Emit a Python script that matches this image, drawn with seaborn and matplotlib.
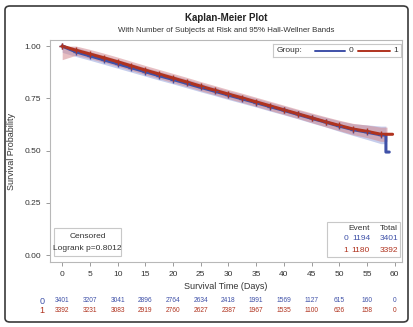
import numpy as np
import pandas as pd
import matplotlib
matplotlib.use("Agg")
import matplotlib.pyplot as plt
from matplotlib.patches import FancyBboxPatch, Rectangle
import seaborn as sns

# ---------------- data ----------------
times = [0, 2.5, 5, 7.5, 10, 12.5, 15, 17.5, 20, 22.5, 25, 27.5, 30,
         32.5, 35, 37.5, 40, 42.5, 45, 47.5, 50, 52.5, 55, 57.5]
surv_1 = [1.000, 0.980, 0.962, 0.944, 0.925, 0.905, 0.885, 0.866, 0.847,
          0.828, 0.808, 0.789, 0.770, 0.752, 0.733, 0.714, 0.695, 0.676,
          0.657, 0.638, 0.620, 0.603, 0.592, 0.578]
surv_0 = [1.000, 0.972, 0.953, 0.934, 0.915, 0.896, 0.877, 0.858, 0.840,
          0.821, 0.802, 0.784, 0.765, 0.747, 0.729, 0.710, 0.692, 0.673,
          0.654, 0.636, 0.617, 0.600, 0.588, 0.575]
# half-width of Hall-Wellner bands
hw_1 = [0.065, 0.024, 0.022, 0.022, 0.022, 0.022, 0.022, 0.022, 0.022,
        0.022, 0.022, 0.022, 0.022, 0.022, 0.022, 0.022, 0.022, 0.022,
        0.023, 0.024, 0.025, 0.027, 0.030, 0.034]
hw_0 = [0.030, 0.022, 0.021, 0.021, 0.021, 0.021, 0.021, 0.021, 0.021,
        0.021, 0.021, 0.021, 0.021, 0.021, 0.021, 0.021, 0.021, 0.021,
        0.022, 0.023, 0.025, 0.028, 0.035, 0.042]
end_1 = (59.6, 0.578)
end_0_drop = (58.4, 0.493)
end_0 = 59.0

risk_times = [0, 5, 10, 15, 20, 25, 30, 35, 40, 45, 50, 55, 60]
risk_0 = [3401, 3207, 3041, 2896, 2764, 2634, 2418, 1991, 1569, 1127, 615, 160, 0]
risk_1 = [3392, 3231, 3083, 2919, 2760, 2627, 2387, 1967, 1535, 1100, 626, 158, 0]

groups = ["0", "1"]
events = [1194, 1180]
totals = [3401, 3392]
logrank_p = "0.8012"

BLUE = "#3f51a8"
RED = "#b0331f"
BLUE_BAND = "#98a5de"
RED_BAND = "#d48a90"

# ---------------- figure ----------------
sns.set_style("white")
plt.rcParams["font.family"] = ["Liberation Sans", "DejaVu Sans"]

W, H = 413, 327
fig = plt.figure(figsize=(W / 100, H / 100), dpi=100)
fig.patch.set_facecolor("white")

frame = FancyBboxPatch((5 / W, 5 / H), 403 / W, 316 / H,
                       boxstyle="round,pad=0,rounding_size=0.012",
                       transform=fig.transFigure, fill=False,
                       edgecolor="#3a3a3a", linewidth=1.2)
fig.patches.append(frame)

ax_l, ax_r, ax_t, ax_b = 50, 402, 40, 262
ax = fig.add_axes([ax_l / W, 1 - ax_b / H, (ax_r - ax_l) / W, (ax_b - ax_t) / H])

rows = []
for g, s, hw in (("0", surv_0, hw_0), ("1", surv_1, hw_1)):
    for t, v, h in zip(times, s, hw):
        rows.append(dict(time=t, surv=v, lo=v - h, hi=min(1.0, v + h), group=g))
df = pd.DataFrame(rows)

ext = pd.DataFrame([
    dict(time=end_0_drop[0], surv=surv_0[-1], group="0"),
    dict(time=end_0_drop[0], surv=end_0_drop[1], group="0"),
    dict(time=end_0, surv=end_0_drop[1], group="0"),
    dict(time=end_1[0], surv=end_1[1], group="1"),
])
df_line = pd.concat([df[["time", "surv", "group"]], ext], ignore_index=True)
df_line["order"] = range(len(df_line))
df_line = df_line.sort_values(["group", "time", "order"])

palette = {"0": BLUE, "1": RED}
bands = {"0": BLUE_BAND, "1": RED_BAND}

for g in groups:
    d = df[df.group == g]
    tb = list(d.time) + [end_0_drop[0] if g == "0" else end_1[0] - 1.0]
    lo = list(d.lo) + [list(d.lo)[-1]]
    hi = list(d.hi) + [list(d.hi)[-1]]
    ax.fill_between(tb, lo, hi, color=bands[g], alpha=0.55, linewidth=0, zorder=1)

sns.lineplot(data=df_line, x="time", y="surv", hue="group", palette=palette,
             estimator=None, sort=False, linewidth=2.2,
             ax=ax, legend=False, zorder=3)

for g in groups:
    d = df[df.group == g]
    ax.scatter(d.time, d.surv, marker="+", s=14,
               color=palette[g], linewidths=1.0, zorder=4)

ax.set_xlim(-2.2, 61.3)
ax.set_ylim(-0.033, 1.029)
ax.set_xticks(risk_times)
ax.set_yticks([0, 0.25, 0.5, 0.75, 1.0])
ax.set_yticklabels(["0.00", "0.25", "0.50", "0.75", "1.00"])
ax.tick_params(axis="both", labelsize=6, colors="#8a8a8a", labelcolor="#333333",
               length=3, width=0.6, direction="out", bottom=True, left=True)
ax.set_xlabel("Survival Time (Days)", fontsize=6.5, color="#333333", labelpad=3)
ax.set_ylabel("Survival Probability", fontsize=6.5, color="#333333", labelpad=6)
for sp in ax.spines.values():
    sp.set_color("#b8b8b8")
    sp.set_linewidth(0.8)

fig.text(0.5 * (ax_l + ax_r) / W, 1 - 18 / H, "Kaplan-Meier Plot", ha="center",
         va="center", fontsize=7, fontweight="bold", color="#222222")
fig.text(0.5 * (ax_l + ax_r) / W, 1 - 30 / H,
         "With Number of Subjects at Risk and 95% Hall-Wellner Bands",
         ha="center", va="center", fontsize=5.7, color="#333333")

lx0, ly0, lx1, ly1 = 273, 44, 401, 57
ax_leg = fig.add_axes([lx0 / W, 1 - ly1 / H, (lx1 - lx0) / W, (ly1 - ly0) / H])
ax_leg.set_xlim(lx0, lx1)
ax_leg.set_ylim(ly1, ly0)
ax_leg.set_xticks([])
ax_leg.set_yticks([])
for sp in ax_leg.spines.values():
    sp.set_color("#c8c8c8")
    sp.set_linewidth(0.8)
ax_leg.text(277, 50.5, "Group:", fontsize=6, va="center", color="#333333")
ax_leg.plot([315, 345], [50.5, 50.5], color=BLUE, lw=1.4)
ax_leg.text(351, 50.5, "0", fontsize=6, va="center", ha="center", color="#333333")
ax_leg.plot([358, 390], [50.5, 50.5], color=RED, lw=1.4)
ax_leg.text(396, 50.5, "1", fontsize=6, va="center", ha="center", color="#333333")

def fig_box(x0, y0, x1, y1):
    r = Rectangle((x0 / W, 1 - y1 / H), (x1 - x0) / W, (y1 - y0) / H,
                  transform=fig.transFigure, fill=True, facecolor="white",
                  edgecolor="#c8c8c8", linewidth=0.8, zorder=5)
    fig.patches.append(r)

fig_box(54, 228, 121, 256)
fig.text(87.5 / W, 1 - 236 / H, "Censored", fontsize=6, ha="center", va="center",
         color="#333333", zorder=6)
fig.text(87.5 / W, 1 - 248 / H, "Logrank p=" + logrank_p, fontsize=6, ha="center",
         va="center", color="#333333", zorder=6)

fig_box(327, 222, 400, 257)
fig.text(370 / W, 1 - 228 / H, "Event", fontsize=6, ha="right", va="center",
         color="#333333", zorder=6)
fig.text(398 / W, 1 - 228 / H, "Total", fontsize=6, ha="right", va="center",
         color="#333333", zorder=6)
for i, (g, e, tt) in enumerate(zip(groups, events, totals)):
    yy = 1 - (239 + 11 * i) / H
    c = palette[g]
    fig.text(348 / W, yy, g, fontsize=6, ha="right", va="center", color=c, zorder=6)
    fig.text(370 / W, yy, str(e), fontsize=6, ha="right", va="center", color=c, zorder=6)
    fig.text(398 / W, yy, str(tt), fontsize=6, ha="right", va="center", color=c, zorder=6)

trans = matplotlib.transforms.blended_transform_factory(ax.transData, fig.transFigure)
for i, (g, vals) in enumerate(zip(groups, (risk_0, risk_1))):
    yy = 1 - (301 + 9.5 * i) / H
    c = palette[g]
    fig.text(42 / W, yy, g, fontsize=6.5, ha="center", va="center", color=c)
    for t, v in zip(risk_times, vals):
        ax.text(t, yy, str(v), transform=trans, fontsize=4.8, ha="center",
                va="center", color=c)

fig.savefig("out.png", dpi=100)
